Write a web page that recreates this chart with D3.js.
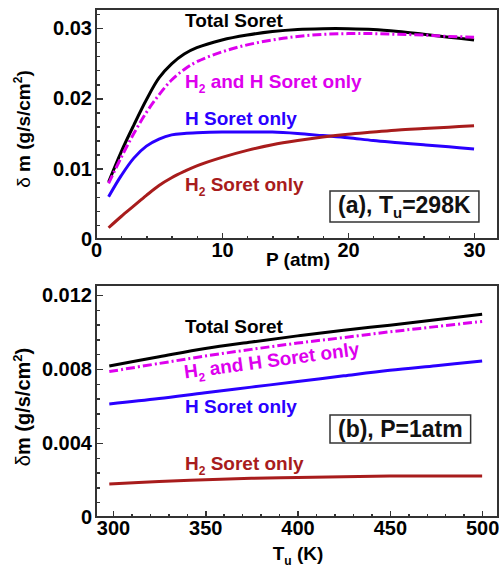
<html>
<head>
<meta charset="utf-8">
<title>Soret effect</title>
<style>
  body { margin: 0; background: #fff; }
  svg text { font-family: "Liberation Sans", Arial, sans-serif; font-weight: bold; }
  .axis path { display: none; }
  .axis line { stroke: #333; stroke-width: 1.5; shape-rendering: crispEdges; }
  .axis text { font-size: 20px; fill: #000; }
</style>
</head>
<body>
<script src="https://cdn.jsdelivr.net/npm/d3@7/dist/d3.min.js"></script>
<script>

// (a) vs pressure, Tu = 298 K
var pressure   = [1, 2, 3, 4, 5, 6, 7, 8, 10, 12, 14, 16, 18, 20, 22, 24, 26, 28, 30];
var totalP     = [0.0081, 0.0124, 0.0162, 0.0198, 0.0229, 0.0249, 0.0263, 0.0272, 0.0283, 0.0290, 0.0295, 0.0298, 0.0299, 0.0299, 0.0298, 0.0295, 0.0291, 0.0287, 0.0283];
var bothP      = [0.0079, 0.0116, 0.0150, 0.0180, 0.0205, 0.0226, 0.0241, 0.0252, 0.0266, 0.0276, 0.0283, 0.0288, 0.0291, 0.0292, 0.0292, 0.0291, 0.0290, 0.0288, 0.0287];
var hOnlyP     = [0.0060, 0.0090, 0.0115, 0.0132, 0.0142, 0.0148, 0.0150, 0.0151, 0.0152, 0.0152, 0.0152, 0.0150, 0.0147, 0.0144, 0.0140, 0.0137, 0.0134, 0.0131, 0.0128];
var h2OnlyP    = [0.0016, 0.0032, 0.0047, 0.0062, 0.0076, 0.0087, 0.0096, 0.0104, 0.0116, 0.0126, 0.0134, 0.0140, 0.0145, 0.0149, 0.0152, 0.0155, 0.0157, 0.0159, 0.0161];

// (b) vs unburned temperature, P = 1 atm
var temps      = [298, 325, 350, 375, 400, 425, 450, 475, 500];
var totalT     = [0.00816, 0.00866, 0.00911, 0.00946, 0.00979, 0.01010, 0.01037, 0.01066, 0.01096];
var bothT      = [0.00786, 0.00830, 0.00870, 0.00906, 0.00940, 0.00970, 0.01001, 0.01029, 0.01057];
var hOnlyT     = [0.00611, 0.00640, 0.00672, 0.00702, 0.00732, 0.00763, 0.00793, 0.00818, 0.00843];
var h2OnlyT    = [0.00178, 0.00192, 0.00202, 0.00209, 0.00214, 0.00218, 0.00221, 0.00222, 0.00222];

var xTicksA = [0, 10, 20, 30];
var yTicksA = [0, 0.01, 0.02, 0.03];
var yLabelsA = ["0", "0.01", "0.02", "0.03"];
var xTicksB = [300, 350, 400, 450, 500];
var yTicksB = [0, 0.004, 0.008, 0.012];
var yLabelsB = ["0", "0.004", "0.008", "0.012"];

var cBlack = "#000000", cMag = "#dd00ee", cBlue = "#2a00ff", cRed = "#a81c1c";

var svg = d3.select("body").append("svg")
    .attr("width", 499)
    .attr("height", 567);

// writes a label made of [text, kind] parts, kind "" | "sub" | "sup"
function richText(sel, parts, size) {
  var shift = 0;
  parts.forEach(function(p) {
    var t = sel.append("tspan").text(p[0]);
    var target = p[1] == "sub" ? 5 : (p[1] == "sup" ? -8 : 0);
    if (target != shift) { t.attr("dy", target - shift); shift = target; }
    if (p[1]) t.attr("font-size", Math.round(size * 0.65));
    if (p[2]) t.attr("font-weight", "normal");
  });
}

function drawPanel(o) {
  var g = svg.append("g");

  // minor ticks
  g.append("g").attr("class", "axis")
    .attr("transform", "translate(0," + o.y.range()[0] + ")")
    .call(d3.axisBottom(o.x).tickValues(o.xMinor).tickSize(-3.5).tickFormat(""));
  g.append("g").attr("class", "axis")
    .attr("transform", "translate(" + o.x.range()[0] + ",0)")
    .call(d3.axisLeft(o.y).tickValues(o.yMinor).tickSize(-3.5).tickFormat(""));

  // major ticks
  g.append("g").attr("class", "axis")
    .attr("transform", "translate(0," + o.y.range()[0] + ")")
    .call(d3.axisBottom(o.x).tickValues(o.xTicks).tickSize(-6.5).tickPadding(4).tickFormat(d3.format("d")));
  g.append("g").attr("class", "axis")
    .attr("transform", "translate(" + o.x.range()[0] + ",0)")
    .call(d3.axisLeft(o.y).tickValues(o.yTicks).tickSize(-6.5).tickPadding(4)
      .tickFormat(function(d, i) { return o.yLabels[i]; }));

  var line = d3.line()
    .x(function(d) { return o.x(d[0]); })
    .y(function(d) { return o.y(d[1]); })
    .curve(d3.curveCatmullRom);

  o.series.forEach(function(s) {
    g.append("path")
      .datum(d3.zip(o.xs, s.values))
      .attr("d", line)
      .attr("fill", "none")
      .attr("stroke", s.color)
      .attr("stroke-width", 3)
      .attr("stroke-dasharray", s.dash || null);

    var t = g.append("text")
      .attr("x", o.x(s.lx))
      .attr("y", o.y(s.ly))
      .attr("fill", s.color)
      .attr("font-size", 19);
    if (s.rotate) {
      var a = Math.atan2(o.y(s.values[s.values.length - 1]) - o.y(s.values[0]),
                         o.x(o.xs[o.xs.length - 1]) - o.x(o.xs[0])) * 180 / Math.PI;
      t.attr("transform", "rotate(" + a + "," + o.x(s.lx) + "," + o.y(s.ly) + ")");
    }
    richText(t, s.label, 19);
  });

  // frame
  var x0 = o.x.range()[0], x1 = o.x.range()[1], y0 = o.y.range()[1], y1 = o.y.range()[0];
  g.append("rect")
    .attr("x", x0).attr("y", y0)
    .attr("width", x1 - x0).attr("height", y1 - y0)
    .attr("fill", "none").attr("stroke", "#333").attr("stroke-width", 2);

  // caption box
  var ct = g.append("text")
    .attr("x", o.boxX).attr("y", o.boxY)
    .attr("font-size", 23).attr("fill", "#111");
  richText(ct, o.caption, 23);
  var bb = ct.node().getBBox();
  g.append("rect")
    .attr("x", bb.x - 8).attr("y", bb.y - 1)
    .attr("width", bb.width + 16).attr("height", bb.height + 2)
    .attr("fill", "#fff").attr("stroke", "#333").attr("stroke-width", 1.5);
  ct.raise();

  // axis titles
  var xt = g.append("text")
    .attr("x", o.xTitleX).attr("y", o.xTitleY)
    .attr("text-anchor", "middle").attr("font-size", 19);
  richText(xt, o.xTitle, 19);

  var ymid = (y0 + y1) / 2 + o.yTitleShift;
  var yt = g.append("text")
    .attr("transform", "translate(30," + ymid + ") rotate(-90)")
    .attr("text-anchor", "middle").attr("font-size", o.yTitleSize);
  richText(yt, o.yTitle, o.yTitleSize);
}

// panel (a)
drawPanel({
  x: d3.scaleLinear().domain([0, 31.9]).range([96, 498]),
  y: d3.scaleLinear().domain([0, 0.0327]).range([239, 9]),
  xs: pressure,
  xTicks: xTicksA, xMinor: d3.range(0, 16).map(function(i) { return i * 2; }),
  yTicks: yTicksA, yLabels: yLabelsA, yMinor: d3.range(0, 17).map(function(i) { return i * 0.002; }),
  series: [
    { values: totalP,  color: cBlack, lx: 7.06, ly: 0.03016, label: [["Total Soret", ""]] },
    { values: bothP,   color: cMag, dash: "9,3,2,3", lx: 7.06, ly: 0.02148,
      label: [["H", ""], ["2", "sub"], [" and H Soret only", ""]] },
    { values: hOnlyP,  color: cBlue, lx: 7.06, ly: 0.01622, label: [["H Soret only", ""]] },
    { values: h2OnlyP, color: cRed, lx: 7.06, ly: 0.00683,
      label: [["H", ""], ["2", "sub"], [" Soret only", ""]] }
  ],
  caption: [["(a), T", ""], ["u", "sub"], ["=298K", ""]],
  boxX: 338, boxY: 213,
  xTitle: [["P (atm)", ""]], xTitleX: 298, xTitleY: 266,
  yTitle: [["\u03b4", "", true], [" m (g/s/cm", ""], ["2", "sup"], [")", ""]],
  yTitleSize: 19, yTitleShift: 5
});

// panel (b)
drawPanel({
  x: d3.scaleLinear().domain([290.8, 508.6]).range([96, 498]),
  y: d3.scaleLinear().domain([0, 0.01254]).range([517, 285]),
  xs: temps,
  xTicks: xTicksB, xMinor: d3.range(300, 510, 10),
  yTicks: yTicksB, yLabels: yLabelsB, yMinor: d3.range(0, 16).map(function(i) { return i * 0.0008; }),
  series: [
    { values: totalT,  color: cBlack, lx: 339, ly: 0.00995, label: [["Total Soret", ""]] },
    { values: bothT,   color: cMag, dash: "9,3,2,3", lx: 339, ly: 0.00748, rotate: true,
      label: [["H", ""], ["2", "sub"], [" and H Soret only", ""]] },
    { values: hOnlyT,  color: cBlue, lx: 339, ly: 0.00562, label: [["H Soret only", ""]] },
    { values: h2OnlyT, color: cRed, lx: 339, ly: 0.00254,
      label: [["H", ""], ["2", "sub"], [" Soret only", ""]] }
  ],
  caption: [["(b), P=1atm", ""]],
  boxX: 338, boxY: 437,
  xTitle: [["T", ""], ["u", "sub"], [" (K)", ""]], xTitleX: 298, xTitleY: 560,
  yTitle: [["\u03b4", "", true], ["m (g/s/cm", ""], ["2", "sup"], [")", ""]],
  yTitleSize: 20, yTitleShift: 6
});

</script>
</body>
</html>
